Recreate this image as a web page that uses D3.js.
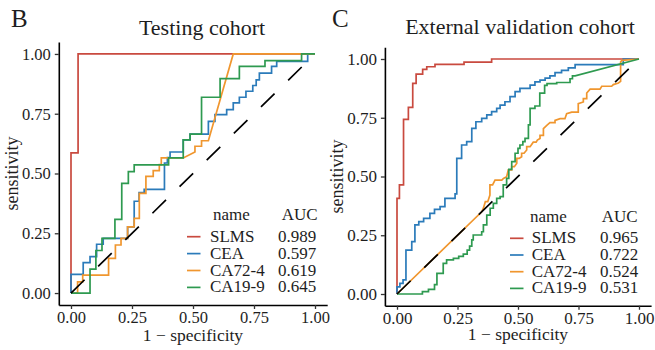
<!DOCTYPE html>
<html>
<head>
<meta charset="utf-8">
<script src="https://cdn.jsdelivr.net/npm/d3@7"></script>
<style>
  html, body { margin: 0; padding: 0; background: #fff; }
  svg { display: block; font-family: "Liberation Serif", "Times New Roman", serif; }
</style>
</head>
<body>
<svg id="chart" width="655" height="350"></svg>
<script>
// Markers, colours and tick values
const markers = ["SLMS", "CEA", "CA72-4", "CA19-9"];
const markerColors = ["#c94a3f", "#2b7bba", "#f0962e", "#2e9a50"];
const tickValues = [0, 0.25, 0.5, 0.75, 1];

// Area under curve per marker
const aucTesting = [0.989, 0.597, 0.619, 0.645];
const aucExternal = [0.965, 0.722, 0.524, 0.531];

// ROC vertices, [1 - specificity, sensitivity] — testing cohort
const testingSLMS = [[0,0],[0,0.586],[0.029,0.586],[0.029,1],[1,1]];
const testingCEA = [[0,0],[0,0.078],[0.05,0.078],[0.05,0.127],[0.078,0.127],[0.078,0.152],[0.105,0.152],[0.105,0.204],[0.132,0.204],[0.132,0.229],[0.232,0.229],[0.232,0.277],[0.259,0.277],[0.259,0.384],[0.279,0.384],[0.279,0.42],[0.30,0.42],[0.30,0.434],[0.383,0.434],[0.383,0.544],[0.395,0.544],[0.395,0.567],[0.406,0.567],[0.406,0.59],[0.46,0.59],[0.46,0.641],[0.488,0.641],[0.488,0.665],[0.563,0.665],[0.563,0.718],[0.59,0.718],[0.59,0.746],[0.638,0.746],[0.638,0.767],[0.665,0.767],[0.665,0.795],[0.69,0.795],[0.69,0.819],[0.717,0.819],[0.717,0.844],[0.745,0.844],[0.745,0.868],[0.759,0.868],[0.759,0.892],[0.772,0.892],[0.772,0.92],[0.822,0.92],[0.822,0.948],[0.843,0.948],[0.843,0.969],[0.97,0.969],[0.97,1],[1,1]];
const testingCA724 = [[0,0],[0.027,0],[0.027,0.047],[0.048,0.047],[0.048,0.075],[0.154,0.075],[0.154,0.145],[0.182,0.145],[0.182,0.201],[0.205,0.201],[0.205,0.229],[0.232,0.229],[0.232,0.277],[0.259,0.277],[0.259,0.312],[0.28,0.312],[0.28,0.417],[0.307,0.417],[0.307,0.488],[0.337,0.488],[0.337,0.512],[0.362,0.512],[0.362,0.537],[0.37,0.537],[0.37,0.565],[0.46,0.565],[0.508,0.59],[0.508,0.614],[0.535,0.614],[0.535,0.637],[0.563,0.637],[0.665,1],[1,1]];
const testingCA199 = [[0,0],[0.078,0],[0.078,0.10],[0.102,0.10],[0.102,0.178],[0.127,0.178],[0.127,0.229],[0.18,0.229],[0.18,0.308],[0.208,0.308],[0.208,0.459],[0.235,0.459],[0.235,0.508],[0.259,0.508],[0.259,0.536],[0.40,0.536],[0.40,0.565],[0.46,0.565],[0.46,0.641],[0.488,0.641],[0.488,0.665],[0.535,0.665],[0.535,0.819],[0.611,0.819],[0.611,0.897],[0.69,0.897],[0.69,0.948],[0.795,0.948],[0.795,0.972],[0.945,0.972],[0.945,1],[1,1]];

// ROC vertices — external validation cohort
const externalSLMS = [[0,0],[0,0.407],[0.01,0.407],[0.01,0.464],[0.027,0.464],[0.027,0.743],[0.047,0.743],[0.047,0.794],[0.065,0.794],[0.065,0.896],[0.079,0.896],[0.079,0.936],[0.106,0.936],[0.106,0.956],[0.123,0.956],[0.123,0.967],[0.157,0.967],[0.157,0.977],[0.277,0.977],[0.277,0.987],[0.391,0.987],[0.391,1],[1,1]];
const externalCEA = [[0,0],[0,0.03],[0.012,0.03],[0.012,0.045],[0.025,0.045],[0.025,0.06],[0.037,0.06],[0.037,0.187],[0.061,0.187],[0.061,0.223],[0.074,0.223],[0.074,0.294],[0.09,0.294],[0.09,0.308],[0.11,0.308],[0.11,0.322],[0.136,0.322],[0.136,0.343],[0.155,0.343],[0.155,0.36],[0.178,0.36],[0.178,0.372],[0.198,0.372],[0.198,0.407],[0.24,0.407],[0.24,0.426],[0.247,0.426],[0.247,0.577],[0.267,0.577],[0.267,0.634],[0.288,0.634],[0.288,0.648],[0.309,0.648],[0.309,0.705],[0.326,0.705],[0.326,0.733],[0.35,0.733],[0.35,0.747],[0.371,0.747],[0.371,0.762],[0.391,0.762],[0.391,0.776],[0.412,0.776],[0.412,0.79],[0.426,0.79],[0.426,0.804],[0.446,0.804],[0.446,0.818],[0.467,0.818],[0.467,0.84],[0.488,0.84],[0.488,0.861],[0.508,0.861],[0.508,0.875],[0.55,0.875],[0.55,0.889],[0.57,0.889],[0.57,0.903],[0.591,0.903],[0.591,0.91],[0.612,0.91],[0.612,0.919],[0.632,0.919],[0.632,0.928],[0.653,0.928],[0.653,0.942],[0.68,0.942],[0.68,0.952],[0.708,0.952],[0.708,0.962],[0.736,0.962],[0.736,0.976],[0.935,0.976],[0.935,1],[1,1]];
const externalCA724 = [[0,0],[0.35,0.35],[0.357,0.365],[0.365,0.393],[0.375,0.393],[0.384,0.421],[0.384,0.464],[0.395,0.464],[0.405,0.485],[0.433,0.485],[0.44,0.492],[0.453,0.499],[0.46,0.528],[0.474,0.528],[0.474,0.542],[0.485,0.542],[0.495,0.556],[0.495,0.577],[0.505,0.577],[0.515,0.584],[0.515,0.599],[0.525,0.599],[0.536,0.613],[0.536,0.627],[0.55,0.627],[0.563,0.646],[0.575,0.646],[0.58,0.655],[0.591,0.662],[0.591,0.675],[0.605,0.675],[0.605,0.704],[0.619,0.718],[0.632,0.729],[0.653,0.729],[0.653,0.739],[0.674,0.746],[0.694,0.746],[0.701,0.767],[0.722,0.774],[0.749,0.774],[0.749,0.81],[0.77,0.817],[0.77,0.831],[0.784,0.831],[0.784,0.855],[0.798,0.872],[0.839,0.872],[0.846,0.884],[0.887,0.884],[0.894,0.891],[0.915,0.898],[0.924,0.905],[0.924,0.987],[0.929,0.994],[1,1]];
const externalCA199 = [[0,0],[0.105,0],[0.105,0.01],[0.13,0.01],[0.13,0.02],[0.155,0.02],[0.155,0.04],[0.165,0.04],[0.165,0.088],[0.191,0.088],[0.191,0.13],[0.205,0.13],[0.205,0.145],[0.233,0.145],[0.233,0.152],[0.255,0.152],[0.255,0.16],[0.274,0.16],[0.274,0.17],[0.29,0.17],[0.29,0.187],[0.30,0.187],[0.30,0.204],[0.309,0.204],[0.309,0.23],[0.315,0.23],[0.315,0.251],[0.35,0.251],[0.35,0.265],[0.357,0.265],[0.357,0.294],[0.371,0.294],[0.371,0.336],[0.385,0.336],[0.385,0.365],[0.398,0.365],[0.398,0.386],[0.412,0.386],[0.412,0.407],[0.426,0.407],[0.426,0.414],[0.439,0.414],[0.439,0.464],[0.453,0.464],[0.453,0.492],[0.462,0.492],[0.462,0.53],[0.474,0.53],[0.474,0.563],[0.488,0.563],[0.488,0.599],[0.50,0.599],[0.50,0.62],[0.508,0.62],[0.508,0.634],[0.52,0.634],[0.52,0.648],[0.529,0.648],[0.529,0.662],[0.543,0.662],[0.543,0.72],[0.55,0.72],[0.55,0.79],[0.57,0.79],[0.57,0.80],[0.59,0.80],[0.59,0.855],[0.61,0.855],[0.61,0.888],[0.62,0.888],[0.62,0.895],[0.66,0.895],[0.66,0.90],[0.715,0.90],[0.715,0.916],[0.725,0.916],[0.725,0.928],[0.736,0.928],[1,1]];

const panels = [
  {
    letter: "B", letterX: 11, letterY: 27,
    title: "Testing cohort", titleX: 202, titleY: 35,
    xRange: [58.8, 327.2], yRange: [305, 42],
    tickFont: 16.5, yLabelX: 18, xLabelY: 341,
    curves: [testingSLMS, testingCEA, testingCA724, testingCA199],
    auc: aucTesting,
    legend: { keyX: 187, labelX: 210, nameX: 213, aucX: 281.7, valueX: 278, headY: 220, rowY: 241.7, rowStep: 16.9 }
  },
  {
    letter: "C", letterX: 332, letterY: 27,
    title: "External validation cohort", titleX: 520, titleY: 34,
    xRange: [384.9, 651.1], yRange: [305.75, 47.25],
    tickFont: 17, yLabelX: 343, xLabelY: 340,
    curves: [externalSLMS, externalCEA, externalCA724, externalCA199],
    auc: aucExternal,
    legend: { keyX: 510, labelX: 531.7, nameX: 530, aucX: 601.7, valueX: 600, headY: 221.7, rowY: 243.3, rowStep: 16.7 }
  }
];

const svg = d3.select("#chart");
const textColor = "#1e1e1e";

panels.forEach(p => {
  const g = svg.append("g");
  const x = d3.scaleLinear().domain([-0.05, 1.05]).range(p.xRange);
  const y = d3.scaleLinear().domain([-0.05, 1.05]).range(p.yRange);

  // Axes
  const xAxis = d3.axisBottom(x).tickValues(tickValues).tickFormat(d3.format(".2f"))
    .tickSizeInner(4).tickSizeOuter(0).tickPadding(2);
  const yAxis = d3.axisLeft(y).tickValues(tickValues).tickFormat(d3.format(".2f"))
    .tickSizeInner(4).tickSizeOuter(0).tickPadding(4);

  const gx = g.append("g").attr("transform", `translate(0,${p.yRange[0]})`).call(xAxis);
  const gy = g.append("g").attr("transform", `translate(${p.xRange[0]},0)`).call(yAxis);
  [gx, gy].forEach(a => {
    a.attr("font-family", null).attr("font-size", null);
    a.select(".domain").attr("stroke", "#000").attr("stroke-width", 1.6);
    a.selectAll(".tick line").attr("stroke", "#333").attr("stroke-width", 1.3);
    a.selectAll(".tick text").attr("fill", textColor).style("font-size", p.tickFont + "px");
  });

  // ROC curves
  const line = d3.line().x(d => x(d[0])).y(d => y(d[1]));
  p.curves.forEach((c, i) => {
    g.append("path").datum(c)
      .attr("d", line)
      .attr("fill", "none")
      .attr("stroke", markerColors[i])
      .attr("stroke-width", 1.7)
      .attr("stroke-linejoin", "miter");
  });

  // Chance diagonal
  g.append("path").datum([[0, 0], [1, 1]])
    .attr("d", line)
    .attr("fill", "none")
    .attr("stroke", "#000")
    .attr("stroke-width", 1.7)
    .attr("stroke-dasharray", "19,19");

  // Panel letter and title
  g.append("text").attr("x", p.letterX).attr("y", p.letterY)
    .attr("fill", textColor).style("font-size", "25px").text(p.letter);
  g.append("text").attr("x", p.titleX).attr("y", p.titleY)
    .attr("text-anchor", "middle").attr("fill", textColor)
    .style("font-size", "22px").text(p.title);

  // Axis titles
  g.append("text")
    .attr("x", (x(0) + x(1)) / 2).attr("y", p.xLabelY)
    .attr("text-anchor", "middle").attr("fill", textColor)
    .style("font-size", "17.5px").text("1 \u2212 specificity");
  g.append("text")
    .attr("transform", `translate(${p.yLabelX},${(y(0) + y(1)) / 2}) rotate(-90)`)
    .attr("text-anchor", "middle").attr("fill", textColor)
    .style("font-size", "18px").text("sensitivity");

  // Legend table: marker name and AUC
  const L = p.legend;
  const legendFont = "17px";
  g.append("text").attr("x", L.nameX).attr("y", L.headY)
    .attr("fill", textColor).style("font-size", legendFont).text("name");
  g.append("text").attr("x", L.aucX).attr("y", L.headY)
    .attr("fill", textColor).style("font-size", legendFont).text("AUC");
  markers.forEach((m, i) => {
    const by = L.rowY + i * L.rowStep;
    g.append("line")
      .attr("x1", L.keyX).attr("x2", L.keyX + 13.5)
      .attr("y1", by - 5).attr("y2", by - 5)
      .attr("stroke", markerColors[i]).attr("stroke-width", 1.7);
    g.append("text").attr("x", L.labelX).attr("y", by)
      .attr("fill", textColor).style("font-size", legendFont).text(m);
    g.append("text").attr("x", L.valueX).attr("y", by)
      .attr("fill", textColor).style("font-size", legendFont).text(d3.format(".3f")(p.auc[i]));
  });
});
</script>
</body>
</html>
